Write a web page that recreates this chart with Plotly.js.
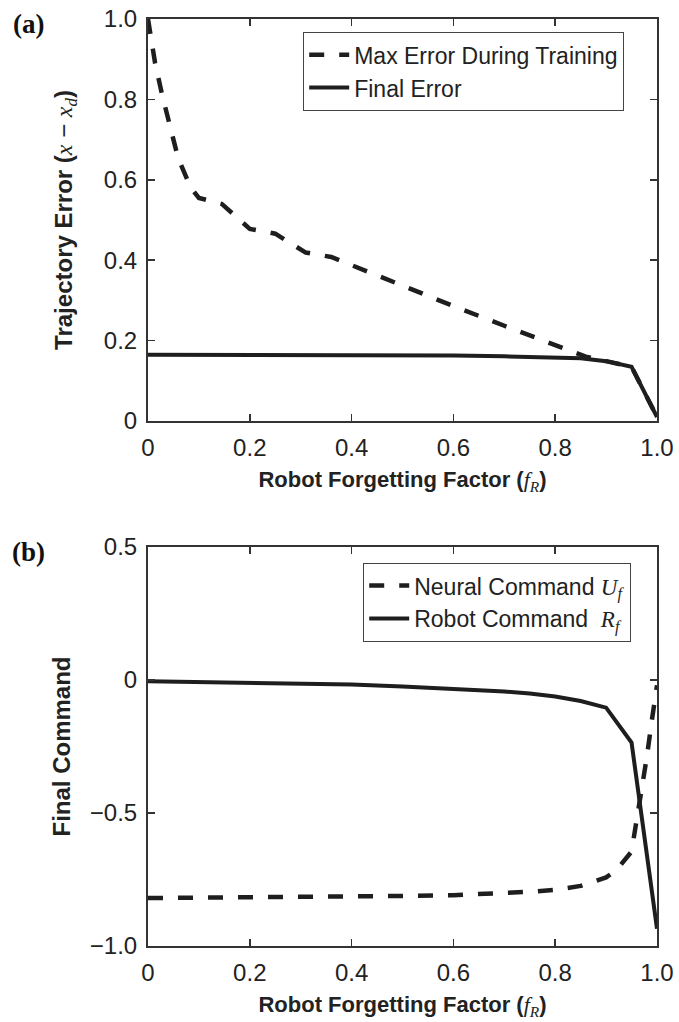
<!DOCTYPE html>
<html>
<head>
<meta charset="utf-8">
<script src="https://cdn.plot.ly/plotly-3.0.1.min.js"></script>
<style>html,body{margin:0;padding:0;background:#fff;}#chart{width:679px;height:1022px;}</style>
</head>
<body>
<div id="chart"></div>
<script>
// Panel (a): trajectory error vs robot forgetting factor
const xMaxErr = [0, 0.014, 0.028, 0.043, 0.059, 0.084, 0.1, 0.145, 0.2, 0.25, 0.31, 0.36, 0.5, 0.6, 0.7, 0.8, 0.86, 0.9, 0.95, 1.0];
const yMaxErr = [1.0, 0.89, 0.81, 0.73, 0.655, 0.58, 0.555, 0.54, 0.478, 0.466, 0.419, 0.408, 0.336, 0.286, 0.237, 0.188, 0.16, 0.149, 0.135, 0.01];
const xFinalErr = [0, 0.2, 0.4, 0.6, 0.7, 0.8, 0.85, 0.9, 0.95, 1.0];
const yFinalErr = [0.165, 0.165, 0.164, 0.163, 0.161, 0.159, 0.156, 0.149, 0.135, 0.01];

// Panel (b): final commands vs robot forgetting factor
const xNeural = [0, 0.1, 0.2, 0.3, 0.4, 0.5, 0.6, 0.65, 0.7, 0.75, 0.8, 0.85, 0.9, 0.92, 0.95, 0.97, 0.98, 0.99, 1.0];
const yNeural = [-0.82, -0.819, -0.818, -0.816, -0.814, -0.812, -0.809, -0.806, -0.801, -0.796, -0.789, -0.774, -0.742, -0.715, -0.645, -0.42, -0.29, -0.15, -0.02];
const xRobot = [0, 0.2, 0.4, 0.5, 0.6, 0.7, 0.75, 0.8, 0.85, 0.9, 0.95, 1.0];
const yRobot = [-0.005, -0.01, -0.017, -0.024, -0.032, -0.043, -0.051, -0.062, -0.079, -0.104, -0.235, -0.935];

// Tick labels
const xTickVals = [0, 0.2, 0.4, 0.6, 0.8, 1.0];
const xTickText = ['0', '0.2', '0.4', '0.6', '0.8', '1.0'];
const yTopTickVals = [0, 0.2, 0.4, 0.6, 0.8, 1.0];
const yTopTickText = ['0', '0.2', '0.4', '0.6', '0.8', '1.0'];
const yBotTickVals = [-1.0, -0.5, 0, 0.5];
const yBotTickText = ['\u22121.0', '\u22120.5', '0', '0.5'];

const LINE = '#1e1e1e';
const FRAME = '#333333';
const TXT = '#222222';
const SANS = 'Liberation Sans, Arial, sans-serif';
const SERIF = 'Liberation Serif, Times New Roman, serif';
const DASH = '15px,15px';
const IT = s => '<span style="font-family:Liberation Serif;font-style:italic;font-weight:normal">' + s + '</span>';

const traces = [
  {x: xMaxErr, y: yMaxErr, xaxis: 'x', yaxis: 'y', mode: 'lines', name: 'Max Error During Training',
   line: {color: LINE, width: 4.5, dash: DASH}, legend: 'legend'},
  {x: xFinalErr, y: yFinalErr, xaxis: 'x', yaxis: 'y', mode: 'lines', name: 'Final Error',
   line: {color: LINE, width: 4}, legend: 'legend'},
  {x: xNeural, y: yNeural, xaxis: 'x2', yaxis: 'y2', mode: 'lines',
   name: 'Neural Command ' + IT('U<sub>f</sub>'),
   line: {color: LINE, width: 4.5, dash: DASH}, legend: 'legend2'},
  {x: xRobot, y: yRobot, xaxis: 'x2', yaxis: 'y2', mode: 'lines',
   name: 'Robot Command  ' + IT('R<sub>f</sub>'),
   line: {color: LINE, width: 4}, legend: 'legend2'}
];

function xAxis(anchor) {
  return {
    anchor: anchor, domain: [0, 1], range: [0, 1],
    tickmode: 'array', tickvals: xTickVals, ticktext: xTickText,
    ticks: 'inside', ticklen: 7, tickwidth: 1.5, tickcolor: FRAME,
    showline: true, linewidth: 2, linecolor: FRAME, mirror: 'ticks',
    showgrid: false, zeroline: false, ticklabelstandoff: 4,
    tickfont: {family: SANS, size: 24, color: TXT},
    title: {text: '<b>Robot Forgetting Factor (</b>' + IT('f<sub>R</sub>') + '<b>)</b>',
            font: {family: SANS, size: 22, color: TXT}, standoff: 12}
  };
}
function yAxis(anchor, domain, range, vals, text, title, standoff) {
  return {
    anchor: anchor, domain: domain, range: range,
    tickmode: 'array', tickvals: vals, ticktext: text,
    ticks: 'inside', ticklen: 7, tickwidth: 1.5, tickcolor: FRAME,
    showline: true, linewidth: 2, linecolor: FRAME, mirror: 'ticks',
    showgrid: false, zeroline: false, ticklabelstandoff: 4,
    tickfont: {family: SANS, size: 24, color: TXT},
    title: {text: title, font: {family: SANS, size: 24, color: TXT}, standoff: standoff}
  };
}

const layout = {
  width: 679, height: 1022,
  margin: {l: 148, r: 22, t: 19, b: 76},
  paper_bgcolor: '#ffffff', plot_bgcolor: '#ffffff',
  showlegend: true,
  xaxis: xAxis('y'),
  yaxis: yAxis('x', [0.5663, 1], [0, 1.0], yTopTickVals, yTopTickText,
    '<b>Trajectory Error (</b>' + IT('x') + ' \u2212 ' + IT('x<sub>d</sub>') + '<b>)</b>', 24),
  xaxis2: xAxis('y2'),
  yaxis2: yAxis('x2', [0, 0.4304], [-1.0, 0.5], yBotTickVals, yBotTickText, '<b>Final Command</b>', 12),
  legend: {x: 0.3045, y: 0.986, xanchor: 'left', yanchor: 'top', xref: 'paper', yref: 'paper',
    bgcolor: '#ffffff', bordercolor: '#444', borderwidth: 1.2, itemwidth: 40,
    font: {family: SANS, size: 23, color: TXT}, tracegroupgap: 0},
  legend2: {x: 0.4224, y: 0.4132, xanchor: 'left', yanchor: 'top', xref: 'paper', yref: 'paper',
    bgcolor: '#ffffff', bordercolor: '#444', borderwidth: 1.2, itemwidth: 40,
    font: {family: SANS, size: 23, color: TXT}, tracegroupgap: 0},
  annotations: [
    {text: '<b>(a)</b>', xref: 'paper', yref: 'paper', x: -0.234, y: 0.9946, xanchor: 'center', yanchor: 'middle',
     showarrow: false, font: {family: SERIF, size: 27, color: '#111'}},
    {text: '<b>(b)</b>', xref: 'paper', yref: 'paper', x: -0.234, y: 0.425, xanchor: 'center', yanchor: 'middle',
     showarrow: false, font: {family: SERIF, size: 27, color: '#111'}}
  ]
};

Plotly.newPlot('chart', traces, layout, {staticPlot: true, displayModeBar: false});
</script>
</body>
</html>
